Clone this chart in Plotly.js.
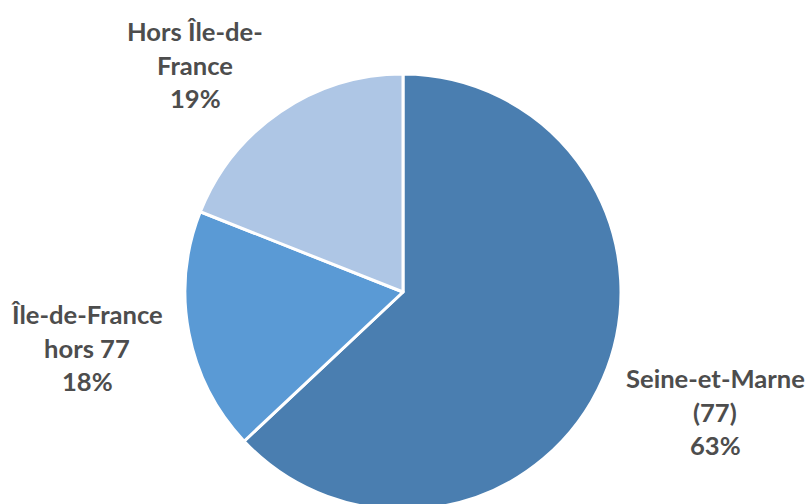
<!DOCTYPE html>
<html>
<head>
<meta charset="utf-8">
<script src="https://cdn.plot.ly/plotly-3.0.1.min.js"></script>
<style>
html, body { margin: 0; padding: 0; background: #ffffff; overflow: hidden; }
#chart { width: 808px; height: 520px; }
</style>
</head>
<body>
<div id="chart"></div>
<script>
// Data
const categories = ["Seine-et-Marne (77)", "Île-de-France hors 77", "Hors Île-de-France"];
const labelLines = [["Seine-et-Marne", "(77)"], ["Île-de-France", "hors 77"], ["Hors Île-de-", "France"]];
const values = [63, 18, 19];
const colors = ["#4A7EB0", "#5A9AD5", "#AEC6E5"];

const W = 808, H = 520;
// label anchor positions in pixels (center x, first line center y)
const labelPos = [[715, 378], [87, 314], [195, 31]];
const lineGap = 33.5;

const total = values.reduce((a, b) => a + b, 0);
const annotations = [];
categories.forEach((c, i) => {
  const lines = labelLines[i].concat([Math.round(values[i] / total * 100) + "%"]);
  lines.forEach((t, j) => {
    annotations.push({
      text: "<b>" + t + "</b>",
      xref: "paper", yref: "paper",
      x: labelPos[i][0] / W,
      y: (H - (labelPos[i][1] + j * lineGap)) / H,
      xanchor: "center", yanchor: "middle",
      showarrow: false,
      font: { family: "Lato, 'Noto Sans', sans-serif", size: 25.6, color: "#4D4D4D" }
    });
  });
});

const cx = 403, cy = 292, r = 218;
const trace = {
  type: "pie",
  labels: categories,
  values: values,
  sort: false,
  direction: "clockwise",
  rotation: 0,
  textinfo: "none",
  hoverinfo: "label+percent",
  marker: { colors: colors, line: { color: "#ffffff", width: 3 } },
  domain: { x: [(cx - r) / W, (cx + r) / W], y: [(H - cy - r) / H, (H - cy + r) / H] },
  showlegend: false
};

Plotly.newPlot("chart", [trace], {
  width: W, height: H,
  margin: { l: 0, r: 0, t: 0, b: 0 },
  paper_bgcolor: "#ffffff",
  plot_bgcolor: "#ffffff",
  showlegend: false,
  annotations: annotations
}, { displayModeBar: false, staticPlot: true });
</script>
</body>
</html>
